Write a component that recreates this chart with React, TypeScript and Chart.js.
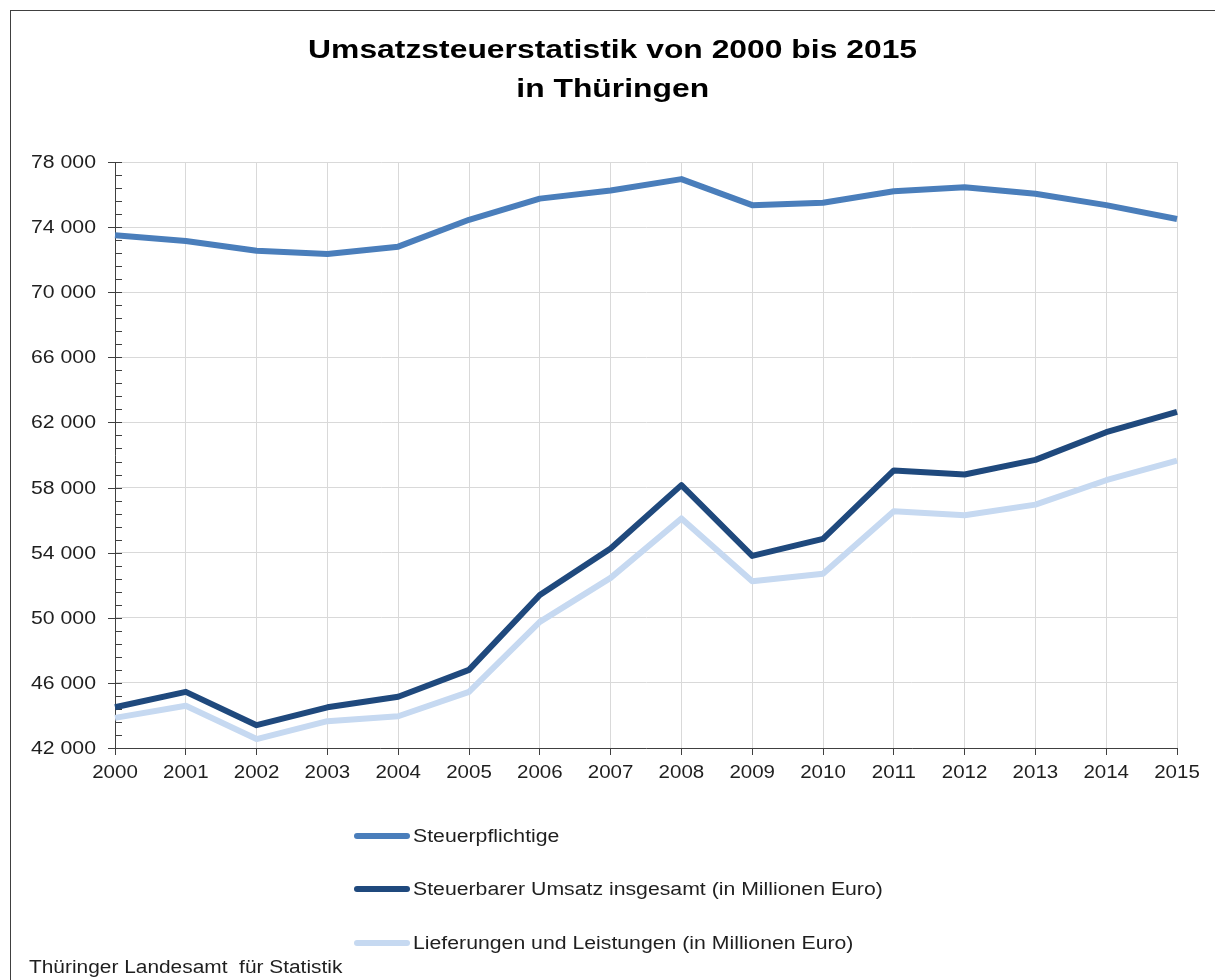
import React, { useEffect, useRef } from "react";
import { Chart, registerables } from "chart.js";

Chart.register(...registerables);

const YEARS = ["2000","2001","2002","2003","2004","2005","2006","2007","2008","2009","2010","2011","2012","2013","2014","2015"];
const STEUERPFLICHTIGE = [73500,73150,72550,72350,72800,74450,75750,76250,76950,75350,75500,76200,76450,76050,75350,74500];
const STEUERBARER_UMSATZ = [44500,45450,43400,44500,45150,46800,51400,54250,58150,53800,54850,59050,58800,59700,61400,62650];
const LIEFERUNGEN = [43850,44600,42550,43650,43950,45450,49750,52450,56100,52250,52700,56550,56300,56950,58450,59650];

const SERIES_LABELS = [
  "Steuerpflichtige",
  "Steuerbarer Umsatz insgesamt (in Millionen Euro)",
  "Lieferungen und Leistungen (in Millionen Euro)",
];
const SERIES_COLORS = ["#4a7ebb", "#1f497d", "#c6d9f1"];

const Y_MIN = 42000;
const Y_MAX = 78000;
const Y_STEP = 4000;
const Y_MINOR = 800;

const TITLE_LINES = ["Umsatzsteuerstatistik von 2000 bis 2015", "in Thüringen"];
const SOURCE = "Thüringer Landesamt  für Statistik";

const FONT = "'Liberation Sans', Arial, sans-serif";
const TEXT_COLOR = "#1f1f1f";

const fmt = (v: number) => String(v).replace(/\B(?=(\d{3})+(?!\d))/g, " ");

const axisDecor = {
  id: "axisDecor",
  beforeDatasetsDraw(chart: any) {
    const y = chart.scales.y;
    const ctx = chart.ctx;
    const left = chart.chartArea.left;
    ctx.save();
    ctx.strokeStyle = "#404040";
    ctx.lineWidth = 1;
    for (let v = Y_MIN; v <= Y_MAX; v += Y_MINOR) {
      const p = Math.round(y.getPixelForValue(v)) + 0.5;
      const major = (v - Y_MIN) % Y_STEP === 0;
      ctx.beginPath();
      ctx.moveTo(major ? left - 7 : left, p);
      ctx.lineTo(left + 7, p);
      ctx.stroke();
    }
    ctx.restore();
  },
  afterDraw(chart: any) {
    const ctx = chart.ctx;
    const { x, y } = chart.scales;
    const area = chart.chartArea;
    ctx.save();
    ctx.fillStyle = TEXT_COLOR;
    ctx.font = `18px ${FONT}`;
    // y labels
    ctx.textAlign = "right";
    ctx.textBaseline = "middle";
    y.ticks.forEach((t: any, i: number) => {
      const py = y.getPixelForTick(i);
      ctx.save();
      ctx.translate(area.left - 19, py + 1);
      ctx.scale(1.18, 1);
      ctx.fillText(fmt(Number(t.value)), 0, 0);
      ctx.restore();
    });
    // x labels
    ctx.textAlign = "center";
    ctx.textBaseline = "middle";
    x.ticks.forEach((t: any, i: number) => {
      const px = x.getPixelForTick(i);
      ctx.save();
      ctx.translate(px, area.bottom + 25);
      ctx.scale(1.14, 1);
      ctx.fillText(String(x.getLabelForValue(t.value)), 0, 0);
      ctx.restore();
    });
    ctx.restore();
  },
};

export default function App() {
  const ref = useRef<HTMLCanvasElement | null>(null);

  useEffect(() => {
    if (!ref.current) return;
    const seriesData = [STEUERPFLICHTIGE, STEUERBARER_UMSATZ, LIEFERUNGEN];
    const chart = new Chart(ref.current, {
      type: "line",
      data: {
        labels: YEARS,
        datasets: seriesData.map((d, i) => ({
          label: SERIES_LABELS[i],
          data: d,
          borderColor: SERIES_COLORS[i],
          backgroundColor: SERIES_COLORS[i],
          borderWidth: 6,
          pointRadius: 0,
          tension: 0,
          borderJoinStyle: "round" as const,
          borderCapStyle: "butt" as const,
          fill: false,
        })),
      },
      options: {
        animation: false,
        responsive: false,
        devicePixelRatio: 1,
        layout: { padding: { left: 0, right: 38, top: 162, bottom: 192 } },
        plugins: {
          legend: { display: false },
          title: { display: false },
          tooltip: { enabled: false },
        },
        scales: {
          x: {
            type: "category",
            offset: false,
            afterFit: (s: any) => { s.height = 40; },
            grid: {
              color: "#d9d9d9",
              tickColor: "#404040",
              tickLength: 7,
              drawTicks: true,
            },
            border: { color: "#404040", width: 1 },
            ticks: { display: false, autoSkip: false, maxRotation: 0 },
          },
          y: {
            min: Y_MIN,
            max: Y_MAX,
            afterFit: (s: any) => { s.width = 115; },
            grid: { color: "#d9d9d9", drawTicks: false },
            border: { color: "#404040", width: 1 },
            ticks: { display: false, stepSize: Y_STEP },
          },
        },
      },
      plugins: [axisDecor],
    });
    return () => chart.destroy();
  }, []);

  const legendCenters = [836, 889, 943];

  return (
    <div
      style={{
        position: "absolute",
        left: 0,
        top: 0,
        width: 1215,
        height: 980,
        overflow: "hidden",
        background: "#fff",
        fontFamily: FONT,
        color: TEXT_COLOR,
      }}
    >
      <div
        style={{
          position: "absolute",
          left: 10,
          top: 10,
          width: 1400,
          height: 1200,
          border: "1px solid #404040",
        }}
      />
      <canvas ref={ref} width={1215} height={980} style={{ position: "absolute", left: 0, top: 0, width: 1215, height: 980 }} />
      <div
        style={{
          position: "absolute",
          left: 0,
          top: 30,
          width: 1225,
          textAlign: "center",
          fontWeight: "bold",
          fontSize: 26,
          lineHeight: "39px",
          color: "#000",
        }}
      >
        {TITLE_LINES.map((t, i) => (
          <div key={i} style={{ display: "block" }}>
            <span style={{ display: "inline-block", transform: "scaleX(1.225)" }}>{t}</span>
          </div>
        ))}
      </div>
      {SERIES_LABELS.map((lab, i) => (
        <div key={i} style={{ position: "absolute", left: 354, top: legendCenters[i] - 12, height: 24, display: "flex", alignItems: "center" }}>
          <div style={{ width: 56, height: 6, borderRadius: 3, background: SERIES_COLORS[i] }} />
          <div style={{ marginLeft: 3, fontSize: 18, whiteSpace: "pre", transform: "scaleX(1.18)", transformOrigin: "left center" }}>{lab}</div>
        </div>
      ))}
      <div style={{ position: "absolute", left: 29, top: 957, fontSize: 18, whiteSpace: "pre", transform: "scaleX(1.16)", transformOrigin: "left center" }}>{SOURCE}</div>
    </div>
  );
}
